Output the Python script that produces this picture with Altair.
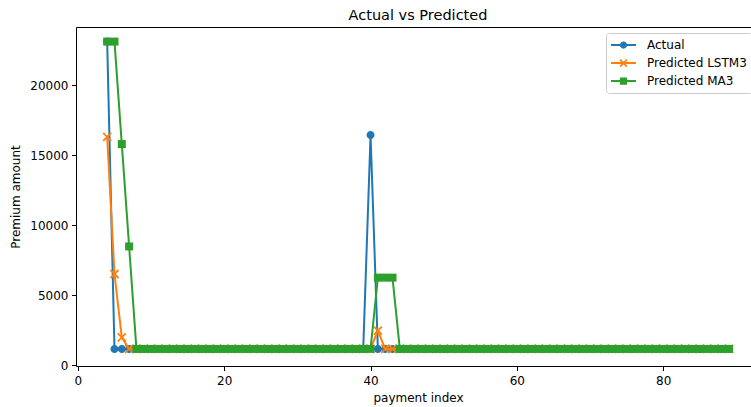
import altair as alt
import pandas as pd

# ---------------- data ----------------
payment_index = list(range(4, 90))  # 4 .. 89

actual = [23100] + [1150] * 35 + [16430] + [1150] * 49
lstm3 = [16300, 6500, 1980] + [1150] * 34 + [2450] + [1150] * 48
ma3 = [23100, 23100, 15780, 8470] + [1150] * 33 + [6240] * 3 + [1150] * 46

series_names = ["Actual", "Predicted LSTM3", "Predicted MA3"]
series_colors = ["#1f77b4", "#ff7f0e", "#2ca02c"]

x_ticks = [0, 20, 40, 60, 80]
y_ticks = [0, 5000, 10000, 15000, 20000]

# ---------------- table ----------------
rows = []
for name, vals in zip(series_names, [actual, lstm3, ma3]):
    for i, v in zip(payment_index, vals):
        rows.append({"idx": i, "value": v, "series": name})
df = pd.DataFrame(rows)

FONT = "DejaVu Sans"

# marker shapes (custom symbol paths, unit = sqrt(size)/2)
circle_p = "M1,0A1,1,0,1,1,-1,0A1,1,0,1,1,1,0Z"
square_p = "M-1,-1H1V1H-1Z"
h = 0.16
x_p = (
    f"M{-1+h},{-1-h}L{1+h},{1-h}L{1-h},{1+h}L{-1-h},{-1+h}Z"
    f"M{-1-h},{1-h}L{1-h},{-1-h}L{1+h},{-1+h}L{-1+h},{1+h}Z"
)
marker_paths = [circle_p, x_p, square_p]

# legend symbols: line segment + marker, all filled shapes
r = 0.29
t = 0.075
hx = 0.05
a = 0.28
leg_line = f"M-1,{-t}H1V{t}H-1Z"
leg_circle = leg_line + f"M{r},0A{r},{r},0,1,1,{-r},0A{r},{r},0,1,1,{r},0Z"
leg_x = leg_line + (
    f"M{-a+hx},{-a-hx}L{a+hx},{a-hx}L{a-hx},{a+hx}L{-a-hx},{-a+hx}Z"
    f"M{-a-hx},{a-hx}L{a-hx},{-a-hx}L{a+hx},{-a+hx}L{-a+hx},{a+hx}Z"
)
leg_square = leg_line + f"M{-r},{-r}H{r}V{r}H{-r}Z"
legend_paths = [leg_circle, leg_x, leg_square]

x_scale = alt.Scale(domain=[-0.26, 92.0], nice=False, zero=False)
y_scale = alt.Scale(domain=[-71, 24143], nice=False, zero=False)

x_axis = alt.Axis(
    values=x_ticks, title="payment index", grid=False, tickSize=4.5,
    labelPadding=4.5, titlePadding=6, titleX=342, labelFlush=False,
)
y_axis = alt.Axis(
    values=y_ticks, format="d", title="Premium amount", grid=False,
    tickSize=4.5, labelPadding=3.5, titlePadding=7,
)

base = alt.Chart(df)
layers = []
for k, (name, col, mp) in enumerate(zip(series_names, series_colors, marker_paths)):
    sub = base.transform_filter(alt.datum.series == name)
    xa = x_axis if k == 0 else None
    ya = y_axis if k == 0 else None
    line = sub.mark_line(strokeWidth=2, color=col).encode(
        x=alt.X("idx:Q", scale=x_scale, axis=xa),
        y=alt.Y("value:Q", scale=y_scale, axis=ya),
    )
    pts = sub.mark_point(filled=True, opacity=1, size=64, color=col, shape=mp).encode(
        x=alt.X("idx:Q", scale=x_scale, axis=None),
        y=alt.Y("value:Q", scale=y_scale, axis=None),
    )
    layers += [line, pts]

leg_props = dict(
    title=None, orient="none", legendX=530, legendY=6,
    symbolSize=625, labelFont=FONT, labelFontSize=12, labelColor="black",
    padding=5, fillColor="white", strokeColor="#cccccc", cornerRadius=3,
    labelOffset=11, clipHeight=14, rowPadding=4, symbolStrokeWidth=0,
)

legend_layer = base.transform_filter("false").mark_point(filled=True, opacity=1).encode(
    x=alt.X("idx:Q", scale=x_scale,
            axis=alt.Axis(orient="top", labels=False, ticks=False, title=None,
                          grid=False, domain=True)),
    y=alt.Y("value:Q", scale=y_scale, axis=None),
    color=alt.Color(
        "series:N",
        scale=alt.Scale(domain=series_names, range=series_colors),
        legend=alt.Legend(**leg_props),
    ),
    shape=alt.Shape(
        "series:N",
        scale=alt.Scale(domain=series_names, range=legend_paths),
        legend=alt.Legend(**leg_props),
    ),
)

chart = (
    alt.layer(*layers, legend_layer)
    .resolve_axis(x="independent", y="independent")
    .properties(
        width=675,
        height=339,
        autosize=alt.AutoSizeParams(type="none"),
        padding={"left": 76, "top": 27, "right": 0, "bottom": 41},
        title=alt.TitleParams(
            "Actual vs Predicted", font=FONT, fontSize=14.5, fontWeight="normal",
            color="black", offset=4, dx=4.5, anchor="middle",
        ),
        background="white",
    )
    .configure_view(stroke=None)
    .configure_axis(
        labelFont=FONT, titleFont=FONT, labelFontSize=12, titleFontSize=12,
        labelColor="black", titleColor="black", titleFontWeight="normal",
        domainColor="black", tickColor="black", domainWidth=1, tickWidth=1,
    )
)

chart.save("out.html", embed_options={"renderer": "svg", "actions": False})
